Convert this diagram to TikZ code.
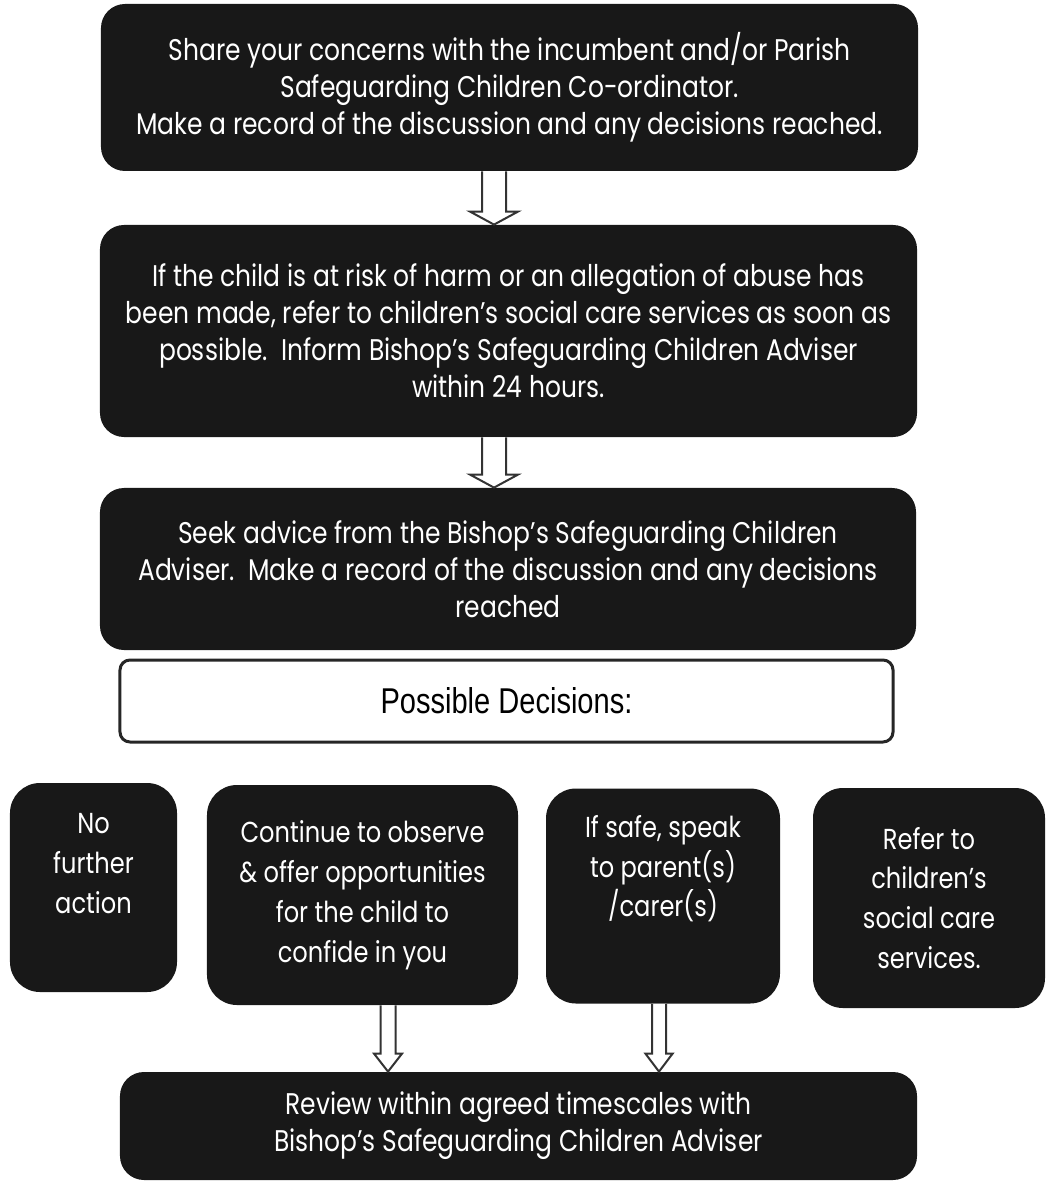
\documentclass[tikz,border=0pt]{standalone}
\usepackage{fontspec}
\setmainfont[FakeStretch=0.835]{Poppins}
\newfontfamily\arialfont[FakeStretch=0.81]{Liberation Sans}
\usetikzlibrary{calc}
\definecolor{boxgray}{HTML}{181818}

\newcommand\hollowarrow[5]{%
  \draw[hollow] let \p1=(#1), \p2=(#2) in
    (\x1-#3,\y1) -- (\x1-#3,\y2+#5) -- (\x1-#4,\y2+#5) -- (\x2,\y2)
    -- (\x1+#4,\y2+#5) -- (\x1+#3,\y2+#5) -- (\x1+#3,\y1);}

\begin{document}
\begin{tikzpicture}[
    x=0.5bp, y=-0.5bp,
    darkbox/.style={fill=boxgray,text=white,rounded corners=12bp,align=center,inner sep=0pt,
      font=\fontsize{15}{18.5}\selectfont},
    smallbox/.style={darkbox,rounded corners=15bp,font=\fontsize{14.5}{20}\selectfont},
    choicebox/.style={draw=black!85,line width=1.5bp,fill=white,rounded corners=5bp,
      font=\arialfont\fontsize{18}{22}\selectfont},
    hollow/.style={draw=black!80,line width=1bp,fill=white}
]
\useasboundingbox (0,0) rectangle (1053,1185);

\node[darkbox,minimum width=408.5bp,minimum height=83.5bp] (concern) at (509.5,87.5)
  {Share your concerns with the incumbent and/or Parish\\
   Safeguarding Children Co-ordinator.\\
   Make a record of the discussion and any decisions reached.};
\node[darkbox,minimum width=408.5bp,minimum height=106bp] (risk) at (508.5,331)
  {If the child is at risk of harm or an allegation of abuse has\\
   been made, refer to children’s social care services as soon as\\
   possible.\ \ Inform Bishop’s Safeguarding Children Adviser\\
   within 24 hours.};
\node[darkbox,minimum width=408bp,minimum height=81bp] (advice) at (508,569)
  {Seek advice from the Bishop’s Safeguarding Children\\
   Adviser.\ \ Make a record of the discussion and any decisions\\
   reached};
\node[choicebox,minimum width=386.5bp,minimum height=41bp] (decisions) at (506.5,701)
  {Possible Decisions:};

\node[smallbox,minimum width=83.5bp,minimum height=104.5bp] (noaction) at (93.5,887.5)
  {No\\ further\\ action\\[4bp]~};
\node[smallbox,minimum width=155.5bp,minimum height=110bp] (observe) at (362.5,895)
  {Continue to observe\\ \& offer opportunities\\ for the child to\\ confide in you};
\node[smallbox,minimum width=117bp,minimum height=107.5bp] (parents) at (663,896)
  {If safe, speak\\ to parent(s)\\ /carer(s)\\[10bp]~};
\node[smallbox,minimum width=116bp,minimum height=110bp] (refer) at (929,898)
  {Refer to\\ children’s\\ social care\\ services.};

\node[darkbox,minimum width=398.5bp,minimum height=54bp] (review) at (518.5,1126)
  {Review within agreed timescales with\\ Bishop’s Safeguarding Children Adviser};

\coordinate (upx) at (494,0);
\coordinate (leftx) at (388,0);
\coordinate (rightx) at (659,0);

\hollowarrow{concern.south -| upx}{risk.north -| upx}{6bp}{12bp}{6.5bp}
\hollowarrow{risk.south -| upx}{advice.north -| upx}{6bp}{12bp}{6.5bp}
\hollowarrow{observe.south -| leftx}{review.north -| leftx}{3.75bp}{7bp}{9bp}
\hollowarrow{parents.south -| rightx}{review.north -| rightx}{3.5bp}{6.8bp}{9bp}
\end{tikzpicture}
\end{document}
